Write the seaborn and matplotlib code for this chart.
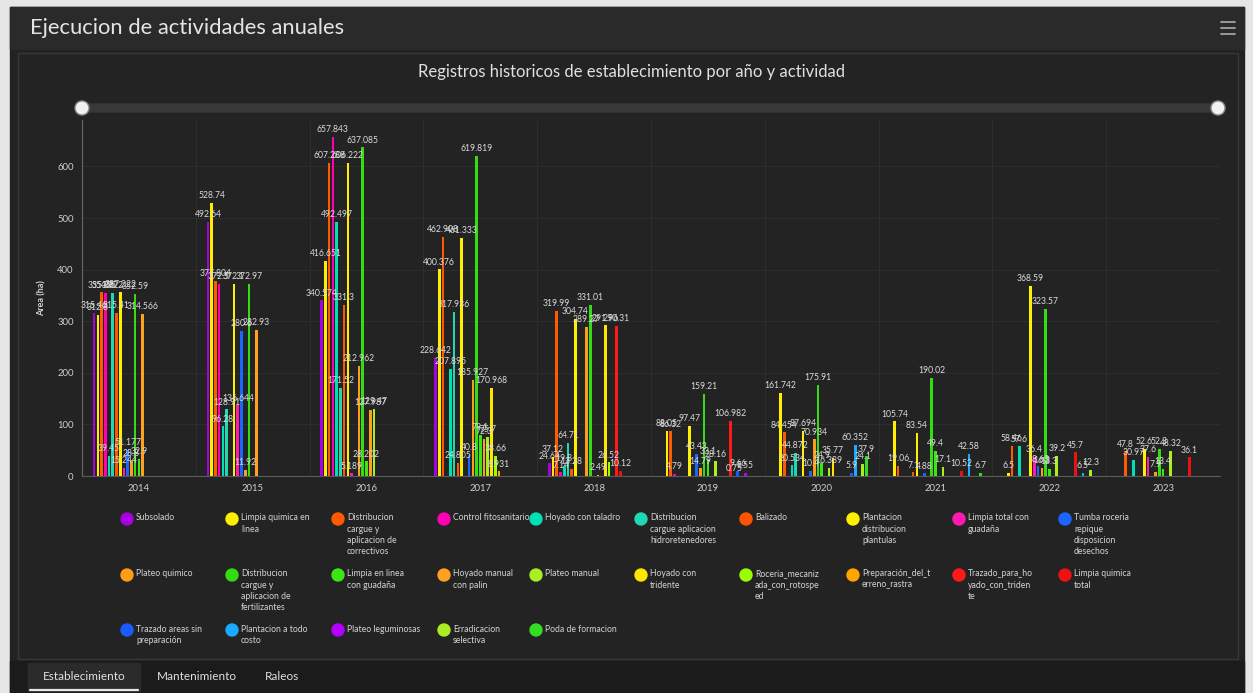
import pandas as pd
import seaborn as sns
import matplotlib.pyplot as plt
from matplotlib.patches import Rectangle, Circle, FancyBboxPatch

# ---------------------------------------------------------------- data
anios = ["2014", "2015", "2016", "2017", "2018", "2019", "2020", "2021", "2022", "2023"]

actividades = [
    "Subsolado", "Limpia quimica en linea", "Distribucion cargue y aplicacion de correctivos",
    "Control fitosanitario", "Hoyado con taladro", "Distribucion cargue aplicacion hidroretenedores",
    "Balizado", "Plantacion distribucion plantulas", "Limpia total con guadaña",
    "Tumba roceria repique disposicion desechos", "Plateo quimico",
    "Distribucion cargue y aplicacion de fertilizantes", "Limpia en linea con guadaña",
    "Hoyado manual con palin", "Plateo manual", "Hoyado con tridente",
    "Roceria_mecanizada_con_rotospeed", "Preparación_del_terreno_rastra",
    "Trazado_para_hoyado_con_tridente", "Limpia quimica total", "Trazado areas sin preparación",
    "Plantacion a todo costo", "Plateo leguminosas", "Erradicacion selectiva", "Poda de formacion",
]

etiquetas_leyenda = [
    "Subsolado", "Limpia quimica en\nlinea", "Distribucion\ncargue y\naplicacion de\ncorrectivos",
    "Control fitosanitario", "Hoyado con taladro", "Distribucion\ncargue aplicacion\nhidroretenedores",
    "Balizado", "Plantacion\ndistribucion\nplantulas", "Limpia total con\nguadaña",
    "Tumba roceria\nrepique\ndisposicion\ndesechos", "Plateo quimico",
    "Distribucion\ncargue y\naplicacion de\nfertilizantes", "Limpia en linea\ncon guadaña",
    "Hoyado manual\ncon palin", "Plateo manual", "Hoyado con\ntridente",
    "Roceria_mecaniz\nada_con_rotospe\ned", "Preparación_del_t\nerreno_rastra",
    "Trazado_para_ho\nyado_con_triden\nte", "Limpia quimica\ntotal", "Trazado areas sin\npreparación",
    "Plantacion a todo\ncosto", "Plateo leguminosas", "Erradicacion\nselectiva", "Poda de formacion",
]

colores = [
    "#a800e0", "#ffee00", "#ff5a00", "#ff00b4", "#00e0b4", "#1fd8b4", "#ff5500", "#fff000",
    "#ff19b0", "#1a66ff", "#ff9c1a", "#33dd11", "#3ce614", "#ffa01e", "#aaee22", "#ffe600",
    "#99ff00", "#ffa500", "#ff1a1a", "#ee1111", "#1a5aff", "#1aaaff", "#b300ff", "#aaee22",
    "#33dd22",
]

N = None
# area (ha) per activity, 2014 .. 2023
subsolado          = [315.46, 492.64, 340.574, 228.642, 24.64, N, N, N, N, N]
limpia_quim_linea  = [312.8, 528.74, 416.651, 400.376, 37.12, 88.05, 161.742, 105.74, 6.5, N]
correctivos        = [355.86, 377.804, 607.288, 462.908, 319.99, 86.32, 84.454, 19.06, 58.46, 47.8]
fitosanitario      = [354.92, 372.5, 657.843, N, 7.14, 4.79, N, N, N, N]
hoyado_taladro     = [39.45, 96.28, 492.497, 207.895, 19.8, N, 20.534, N, 57.6, 30.97]
hidroretenedores   = [355.2, 128.91, 171.52, 317.936, 64.71, N, 44.872, N, N, N]
balizado           = [315.41, N, 331.3, 24.805, 13.28, N, N, 7.1, N, N]
plantacion_dist    = [357.222, 372.1, 606.222, 461.333, 304.74, 97.47, 87.694, 83.54, 368.59, 52.6]
limpia_total       = [15.244, 136.644, 5.189, N, N, N, N, N, 36.4, 37.6]
tumba_roceria      = [51.177, 280.6, N, 40.8, N, 43.43, 10.4, 4.88, 18.63, N]
plateo_quimico     = [28.8, 11.92, 212.962, 185.927, 289.27, 14.79, 70.934, N, 16.3, 7.9]
fertilizantes      = [352.59, 372.97, 637.085, 619.819, 331.01, 159.21, 175.91, 190.02, 323.57, 52.3]
limpia_guadana     = [32.9, N, 28.202, 79.1, N, 33.1, 24.9, 49.4, 13.3, 13.4]
hoyado_palin       = [314.566, 282.93, 127.987, 72.3, 2.49, N, N, N, N, N]
plateo_manual      = [N, N, 129.47, 75.7, N, 28.16, 16.389, 17.1, 39.2, 48.32]
hoyado_tridente    = [N, N, N, 170.968, 291.96, N, 35.77, N, N, N]
roceria_mecanizada = [N, N, N, 38.66, 26.52, N, N, N, N, N]
preparacion_rastra = [N, N, N, 8.931, N, N, N, N, N, N]
trazado_tridente   = [N, N, N, N, 290.31, 106.982, N, N, N, N]
limpia_quim_total  = [N, N, N, N, 10.12, 0.75, N, 10.52, 45.7, 36.1]
trazado_areas      = [N, N, N, N, N, 9.66, 5.9, N, N, N]
plantacion_costo   = [N, N, N, N, N, N, 60.352, 42.58, 6.5, N]
plateo_leguminosas = [N, N, N, N, N, 5.55, N, N, N, N]
erradicacion       = [N, N, N, N, N, N, 24.1, N, 12.3, N]
poda_formacion     = [N, N, N, N, N, N, 37.9, 6.7, N, N]

series = [
    subsolado, limpia_quim_linea, correctivos, fitosanitario, hoyado_taladro, hidroretenedores,
    balizado, plantacion_dist, limpia_total, tumba_roceria, plateo_quimico, fertilizantes,
    limpia_guadana, hoyado_palin, plateo_manual, hoyado_tridente, roceria_mecanizada,
    preparacion_rastra, trazado_tridente, limpia_quim_total, trazado_areas, plantacion_costo,
    plateo_leguminosas, erradicacion, poda_formacion,
]

filas = [
    {"anio": anio, "actividad": act, "area": v}
    for act, valores in zip(actividades, series)
    for anio, v in zip(anios, valores)
    if v is not None
]
df = pd.DataFrame(filas)
paleta = dict(zip(actividades, colores))

# ---------------------------------------------------------------- style
sns.set_theme(style="dark")
plt.rcParams["font.family"] = ["Lato", "DejaVu Sans"]

W, H = 1253, 693
fig = plt.figure(figsize=(W / 100, H / 100), dpi=100, facecolor="#e6e6e6")

# pixel-space layer for the dashboard frame, titles and legend
bg = fig.add_axes([0, 0, 1, 1], zorder=0)
bg.set_xlim(0, W)
bg.set_ylim(H, 0)
bg.axis("off")

bg.add_patch(Rectangle((10, 7), 1234, 686, color="#222222", zorder=0))
bg.add_patch(Rectangle((10, 7), 1234, 42, color="#2a2a2a", zorder=1))
bg.add_patch(Rectangle((18, 53), 1220, 606, facecolor="#232323", edgecolor="#383838", lw=1, zorder=1))
bg.add_patch(Rectangle((10, 661), 1234, 32, color="#1b1b1b", zorder=1))
bg.add_patch(Rectangle((28, 663), 112, 28, color="#2b2b2b", zorder=2))
bg.plot([30, 138], [690, 690], color="#e8e8e8", lw=1.6, zorder=3)

bg.text(30, 28, "Ejecucion de actividades anuales", fontsize=15.8, color="#e4e4e4",
        ha="left", va="center", zorder=3)
for yy in (22, 28, 34):
    bg.plot([1221, 1235], [yy, yy], color="#9a9a9a", lw=1.4, zorder=3)

bg.text(631, 72, "Registros historicos de establecimiento por año y actividad", fontsize=12,
        color="#e0e0e0", ha="center", va="center", zorder=3)

# range scrollbar
bg.add_patch(FancyBboxPatch((82, 104), 1136, 8, boxstyle="round,pad=0,rounding_size=4",
                            color="#383838", zorder=2))
for cx in (82, 1218):
    bg.add_patch(Circle((cx, 108), 7, facecolor="#f2f2f2", edgecolor="#8a8a8a", lw=1, zorder=3))

for txt, cx in (("Establecimiento", 84), ("Mantenimiento", 197), ("Raleos", 282)):
    bg.text(cx, 677, txt, fontsize=8.5, color="#e0e0e0", ha="center", va="center", zorder=3)

# legend, laid out row by row
col_x = [127, 232, 338, 444, 536, 641, 746, 853, 959, 1065]
row_y = [519, 575, 630]
for i, (lab, col) in enumerate(zip(etiquetas_leyenda, colores)):
    cx, cy = col_x[i % 10], row_y[i // 10]
    bg.add_patch(Circle((cx, cy), 6, color=col, zorder=3))
    bg.text(cx + 9, cy - 5.5, lab, fontsize=6.2, color="#d4d4d4", ha="left", va="top",
            linespacing=1.3, zorder=3)

# ---------------------------------------------------------------- chart
ax = fig.add_axes([82 / W, 1 - 476 / H, (1220 - 82) / W, (476 - 120) / H], zorder=2)
ax.set_facecolor("none")

sns.barplot(data=df, x="anio", y="area", hue="actividad", order=anios, hue_order=actividades,
            palette=paleta, width=0.82, gap=0.3, saturation=1, errorbar=None,
            legend=False, ax=ax, zorder=3, linewidth=0, edgecolor="none")

for cont in ax.containers:
    ax.bar_label(cont, fmt="{:g}", fontsize=6.2, color="#dcdcdc", padding=2)

ax.set_xlim(-0.5, 9.5)
ax.set_ylim(0, 690)
ax.set_yticks(range(0, 601, 100))
ax.grid(False)
for v in range(100, 601, 100):
    ax.axhline(v, color="#2d2d2d", lw=0.8, zorder=0)
for k in range(10):
    ax.axvline(k + 0.5, color="#2d2d2d", lw=0.8, zorder=0)

ax.tick_params(axis="both", colors="#cfcfcf", labelsize=6.8, length=0, pad=6)
ax.set_xlabel("")
ax.set_ylabel("Area (ha)", fontsize=6.5, fontweight="bold", color="#d4d4d4", labelpad=8)
for side in ("top", "right"):
    ax.spines[side].set_visible(False)
ax.spines["left"].set_color("#6a6a6a")
ax.spines["left"].set_linewidth(0.8)
ax.spines["bottom"].set_color("#5a5a5a")
ax.spines["bottom"].set_linewidth(0.8)

fig.savefig("out.png", dpi=100, facecolor=fig.get_facecolor())
